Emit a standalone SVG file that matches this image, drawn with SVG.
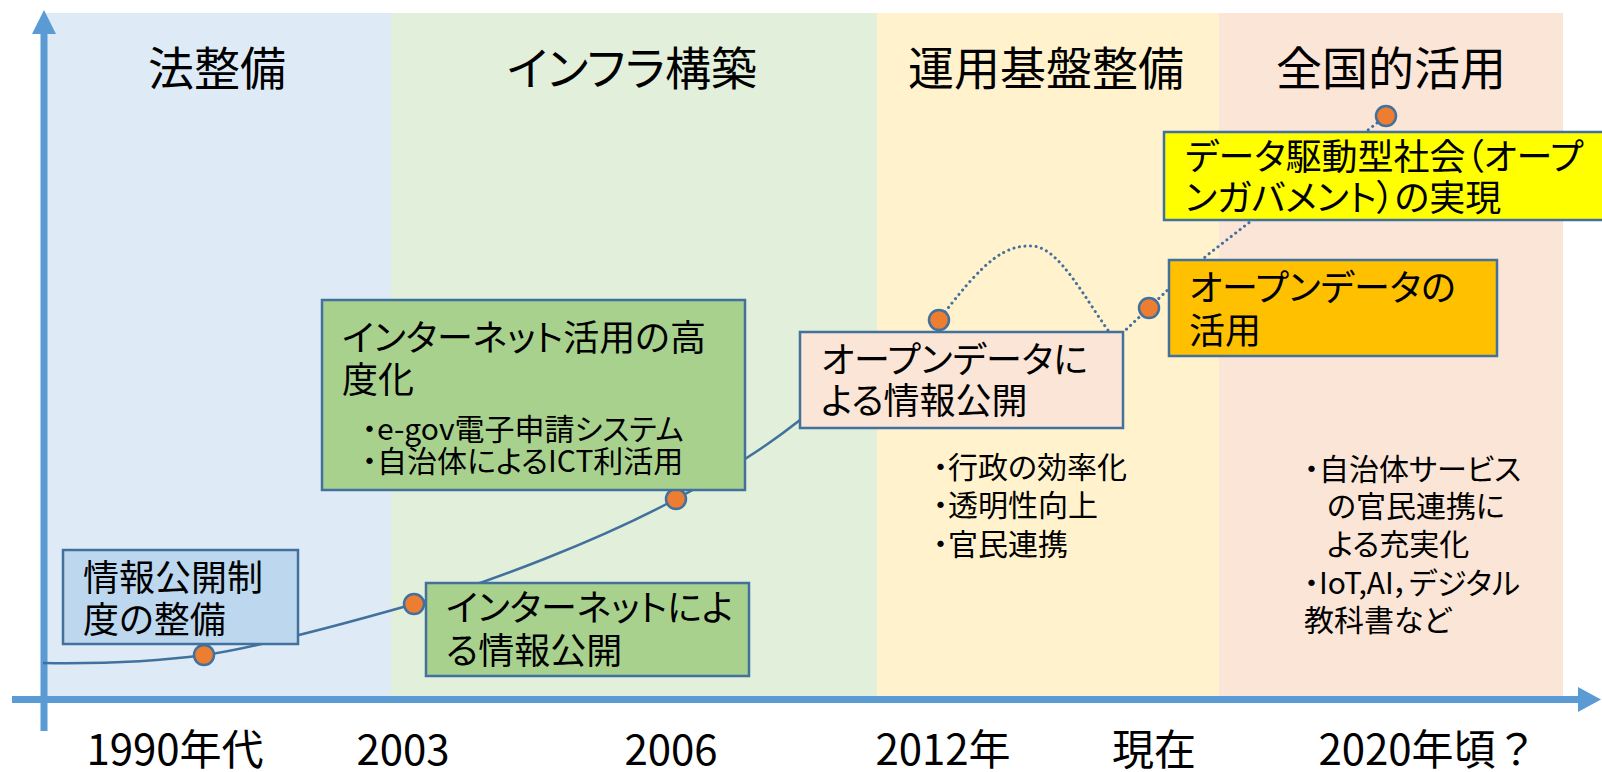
<svg xmlns="http://www.w3.org/2000/svg" width="1602" height="772" viewBox="0 0 1602 772">
<style>
text{font-family:"Noto Sans CJK JP","Noto Sans CJK SC",sans-serif;fill:#000;font-feature-settings:"palt" 1;}
.title{font-size:46px;text-anchor:middle;}
.bt{font-size:36px;}
.sm{font-size:30px;}
.yr{font-size:42px;text-anchor:middle;font-feature-settings:normal;}
.box{stroke:#41719C;stroke-width:2.5;}
.dot{fill:#ED7D31;stroke:#41719C;stroke-width:2.5;}
.axis{stroke:#5B9BD5;stroke-width:7;fill:none;}
.ah{fill:#5B9BD5;}
.curve{fill:none;stroke:#41719C;stroke-width:2.5;}
.dotted{fill:none;stroke:#41719C;stroke-width:3;stroke-dasharray:0.1 5.5;stroke-linecap:round;}
</style>
<rect width="1602" height="772" fill="#FFFFFF"/>
<g id="bands">
<rect x="44" y="13" width="347" height="685" fill="#DEEBF7"/>
<rect x="391" y="13" width="486" height="685" fill="#E2EFDA"/>
<rect x="877" y="13" width="342" height="685" fill="#FFF2CC"/>
<rect x="1219" y="13" width="344" height="685" fill="#FBE5D6"/>
</g>
<g id="phase-titles">
<text class="title" x="217" y="85">法整備</text>
<text class="title" x="632" y="85">インフラ構築</text>
<text class="title" x="1046" y="85">運用基盤整備</text>
<text class="title" x="1391" y="85">全国的活用</text>
</g>
<g id="axes">
<line class="axis" x1="12" y1="699.5" x2="1580" y2="699.5"/>
<polygon class="ah" points="1578,687 1601,699.5 1578,712"/>
<line class="axis" x1="44" y1="731" x2="44" y2="32"/>
<polygon class="ah" points="32,34 44,10 56,34"/>
</g>
<g id="axis-labels">
<text class="yr" x="175" y="765">1990年代</text>
<text class="yr" x="403" y="765">2003</text>
<text class="yr" x="671" y="765">2006</text>
<text class="yr" x="943" y="765">2012年</text>
<text class="yr" x="1154" y="765">現在</text>
<text class="yr" x="1428" y="765">2020年頃？</text>
</g>
<g id="connectors">
<path class="curve" d="M43 663 C110 664 160 661 204 655 S340 625 414 604 S600 540 676 499 S790 430 830 395"/>
<path class="dotted" d="M945 312 C985 260 1005 245 1032 246 C1060 247 1085 300 1115 340 L1149 308 Q1175 282 1210 253 L1386 116"/>
</g>
<g id="dots">
<circle class="dot" cx="204" cy="655" r="10"/>
<circle class="dot" cx="414" cy="604" r="10"/>
<circle class="dot" cx="676" cy="499" r="10"/>
<circle class="dot" cx="939" cy="320" r="10"/>
<circle class="dot" cx="1149" cy="308" r="10"/>
<circle class="dot" cx="1386" cy="116" r="10"/>
</g>
<g id="node-joho-seido">
<rect class="box" x="63" y="550" width="235" height="94" fill="#BDD7EE"/>
<text class="bt" x="83" y="591">情報公開制</text>
<text class="bt" x="83" y="633">度の整備</text>
</g>
<g id="node-internet-kokai">
<rect class="box" x="426" y="583" width="323" height="93" fill="#A9D18E"/>
<text class="bt" x="446" y="621">インターネットによ</text>
<text class="bt" x="446" y="664">る情報公開</text>
</g>
<g id="node-internet-katsuyo">
<rect class="box" x="322" y="300" width="423" height="190" fill="#A9D18E"/>
<text class="bt" x="342" y="351">インターネット活用の高</text>
<text class="bt" x="342" y="393">度化</text>
<text class="sm" x="362" y="440">・e-gov電子申請システム</text>
<text class="sm" x="362" y="472">・自治体によるICT利活用</text>
</g>
<g id="node-opendata-kokai">
<rect class="box" x="800" y="332" width="323" height="96" fill="#FBE5D6"/>
<text class="bt" x="821" y="373">オープンデータに</text>
<text class="bt" x="821" y="414">よる情報公開</text>
</g>
<g id="node-opendata-katsuyo">
<rect class="box" x="1169" y="260" width="328" height="96" fill="#FFC000"/>
<text class="bt" x="1189" y="301">オープンデータの</text>
<text class="bt" x="1189" y="344">活用</text>
</g>
<g id="node-data-society">
<rect class="box" x="1164" y="132" width="450" height="88" fill="#FFFF00"/>
<text class="bt" x="1185" y="170">データ駆動型社会（オープ</text>
<text class="bt" x="1185" y="211">ンガバメント）の実現</text>
</g>
<g id="note-unyo">
<text class="sm" x="933" y="478">・行政の効率化</text>
<text class="sm" x="933" y="516">・透明性向上</text>
<text class="sm" x="933" y="555">・官民連携</text>
</g>
<g id="note-zenkoku">
<text class="sm" x="1304" y="480">・自治体サービス</text>
<text class="sm" x="1327" y="517">の官民連携に</text>
<text class="sm" x="1327" y="555">よる充実化</text>
<text class="sm" x="1304" y="594">・IoT,AI，デジタル</text>
<text class="sm" x="1304" y="631">教科書など</text>
</g>
</svg>
